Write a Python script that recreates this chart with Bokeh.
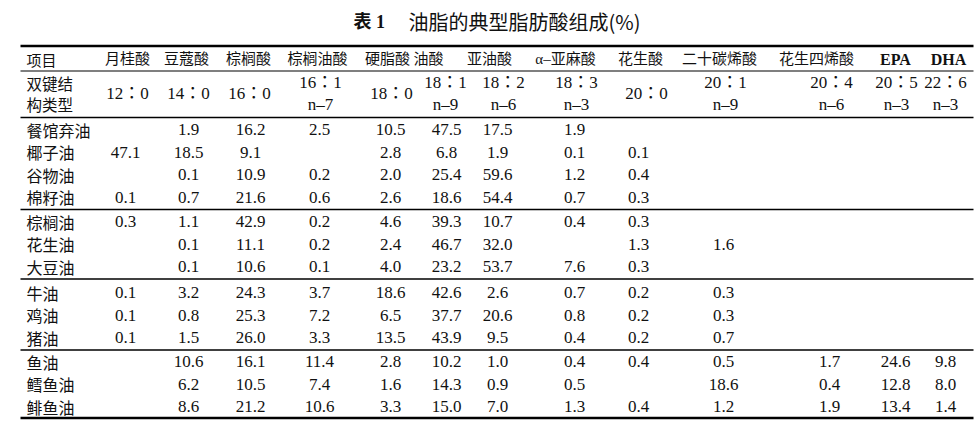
from bokeh.plotting import figure
from bokeh.models import ColumnDataSource, Range1d
from bokeh.core.properties import value
from bokeh.embed import file_html
from bokeh.resources import INLINE

# ---------------- data ----------------
table_no = "表 1"
table_title = "油脂的典型脂肪酸组成(%)"
row_header = "项目"
code_header = ["双键结", "构类型"]

oils = ["餐馆弃油", "椰子油", "谷物油", "棉籽油",
        "棕榈油", "花生油", "大豆油",
        "牛油", "鸡油", "猪油",
        "鱼油", "鳕鱼油", "鲱鱼油"]
oil_groups = [4, 3, 3, 3]

acids = ["月桂酸", "豆蔻酸", "棕榈酸", "棕榈油酸", "硬脂酸", "油酸", "亚油酸",
         "α–亚麻酸", "花生酸", "二十碳烯酸", "花生四烯酸", "EPA", "DHA"]
codes = ["12：0", "14：0", "16：0", "16：1", "18：0", "18：1", "18：2",
         "18：3", "20：0", "20：1", "20：4", "20：5", "22：6"]
omega = ["", "", "", "n–7", "", "n–9", "n–6", "n–3", "", "n–9", "n–6", "n–3", "n–3"]

N = None
lauric          = [N, 47.1, N, 0.1, 0.3, N, N, 0.1, 0.1, 0.1, N, N, N]
myristic        = [1.9, 18.5, 0.1, 0.7, 1.1, 0.1, 0.1, 3.2, 0.8, 1.5, 10.6, 6.2, 8.6]
palmitic        = [16.2, 9.1, 10.9, 21.6, 42.9, 11.1, 10.6, 24.3, 25.3, 26.0, 16.1, 10.5, 21.2]
palmitoleic     = [2.5, N, 0.2, 0.6, 0.2, 0.2, 0.1, 3.7, 7.2, 3.3, 11.4, 7.4, 10.6]
stearic         = [10.5, 2.8, 2.0, 2.6, 4.6, 2.4, 4.0, 18.6, 6.5, 13.5, 2.8, 1.6, 3.3]
oleic           = [47.5, 6.8, 25.4, 18.6, 39.3, 46.7, 23.2, 42.6, 37.7, 43.9, 10.2, 14.3, 15.0]
linoleic        = [17.5, 1.9, 59.6, 54.4, 10.7, 32.0, 53.7, 2.6, 20.6, 9.5, 1.0, 0.9, 7.0]
alpha_linolenic = [1.9, 0.1, 1.2, 0.7, 0.4, N, 7.6, 0.7, 0.8, 0.4, 0.4, 0.5, 1.3]
arachidic       = [N, 0.1, 0.4, 0.3, 0.3, 1.3, 0.3, 0.2, 0.2, 0.2, 0.4, N, 0.4]
eicosenoic      = [N, N, N, N, N, 1.6, N, 0.3, 0.3, 0.7, 0.5, 18.6, 1.2]
arachidonic     = [N, N, N, N, N, N, N, N, N, N, 1.7, 0.4, 1.9]
epa             = [N, N, N, N, N, N, N, N, N, N, 24.6, 12.8, 13.4]
dha             = [N, N, N, N, N, N, N, N, N, N, 9.8, 8.0, 1.4]

columns = [lauric, myristic, palmitic, palmitoleic, stearic, oleic, linoleic,
           alpha_linolenic, arachidic, eicosenoic, arachidonic, epa, dha]

# ---------------- layout (page pixels) ----------------
val_x = [125, 188, 250, 319, 390, 446, 497, 574, 638, 723, 829, 895, 945]
head_x = [127, 186, 248, 317, 387, 428, 489, 565, 640, 719, 816, 895, 948]
code_x = [127, 188, 249, 320, 391, 445, 503, 576, 646, 725, 831, 896, 945]
left_x, right_x, label_x = 20, 973, 26
group_start = [129, 221, 292, 361]
row_step = 22.5

row_y = []
for g, n in zip(group_start, oil_groups):
    row_y += [g + i * row_step for i in range(n)]

SERIF = "Liberation Serif"
CJK = "Noto Sans CJK SC"
MIX = "Liberation Serif, Noto Sans CJK JP"
INK = "#111111"

W, H = 980, 425
p = figure(width=W, height=H, x_range=Range1d(0, W), y_range=Range1d(H, 0),
           output_backend="svg", toolbar_location=None, min_border=0,
           x_axis_location=None, y_axis_location=None)
p.grid.visible = False
p.outline_line_color = None
p.background_fill_color = "white"
p.border_fill_color = "white"

# rules
rules_y = [45.5, 70.5, 117, 209, 278.5, 349.5, 417.5]
rules_w = [2.6, 1.1, 1.3, 1.5, 1.5, 1.5, 2.6]
for yy, ww in zip(rules_y, rules_w):
    p.segment(x0=left_x, y0=yy, x1=right_x, y1=yy, line_color="#000", line_width=ww)

# title
p.text(x=[353], y=[21], text=[table_no], text_font=value("Liberation Serif, Noto Sans CJK SC"),
       text_font_size="18px", text_font_style="bold", text_align="left",
       text_baseline="middle", text_color=INK)
p.text(x=[408], y=[21], text=[table_title], text_font=value("Noto Sans CJK SC, Liberation Serif"),
       text_font_size="20px", text_align="left", text_baseline="middle", text_color=INK)

# header row 1
p.text(x=[label_x], y=[58.5], text=[row_header], text_font=value(CJK), text_font_size="15px",
       text_align="left", text_baseline="middle", text_color=INK)
cjk_heads = [(h, x) for h, x in zip(acids, head_x) if h not in ("EPA", "DHA")]
p.text(x=[x for _, x in cjk_heads], y=[58.5] * len(cjk_heads), text=[h for h, _ in cjk_heads],
       text_font=value("Liberation Serif, Noto Sans CJK SC"), text_font_size="15px",
       text_align="center", text_baseline="middle", text_color=INK)
lat_heads = [(h, x) for h, x in zip(acids, head_x) if h in ("EPA", "DHA")]
p.text(x=[x for _, x in lat_heads], y=[58.5] * len(lat_heads), text=[h for h, _ in lat_heads],
       text_font=value(SERIF), text_font_size="16px", text_font_style="bold",
       text_align="center", text_baseline="middle", text_color=INK)

# header row 2
p.text(x=[label_x, label_x], y=[82, 103], text=code_header, text_font=value(CJK),
       text_font_size="15.5px", text_align="left", text_baseline="middle", text_color=INK)
cx1, cy1, ct1, ox, oy, ot = [], [], [], [], [], []
for c, o, x in zip(codes, omega, code_x):
    if o:
        cx1.append(x); cy1.append(82); ct1.append(c)
        ox.append(x); oy.append(104); ot.append(o)
    else:
        cx1.append(x); cy1.append(93); ct1.append(c)
p.text(x=cx1, y=cy1, text=ct1, text_font=value(MIX), text_font_size="17px",
       text_align="center", text_baseline="middle", text_color=INK)
p.text(x=ox, y=oy, text=ot, text_font=value(SERIF), text_font_size="17px",
       text_align="center", text_baseline="middle", text_color=INK)

# row labels
p.text(x=[label_x] * len(oils), y=row_y, text=oils, text_font=value(CJK),
       text_font_size="16px", text_align="left", text_baseline="middle", text_color=INK)

# values
vx, vy, vt = [], [], []
for col, x in zip(columns, val_x):
    for v, y in zip(col, row_y):
        if v is not None:
            vx.append(x); vy.append(y); vt.append(f"{v:.1f}")
src = ColumnDataSource(dict(x=vx, y=vy, text=vt))
p.text(x="x", y="y", text="text", source=src, text_font=value(SERIF), text_font_size="17px",
       text_align="center", text_baseline="middle", text_color=INK)

open("out.html", "w").write(file_html(p, INLINE))
